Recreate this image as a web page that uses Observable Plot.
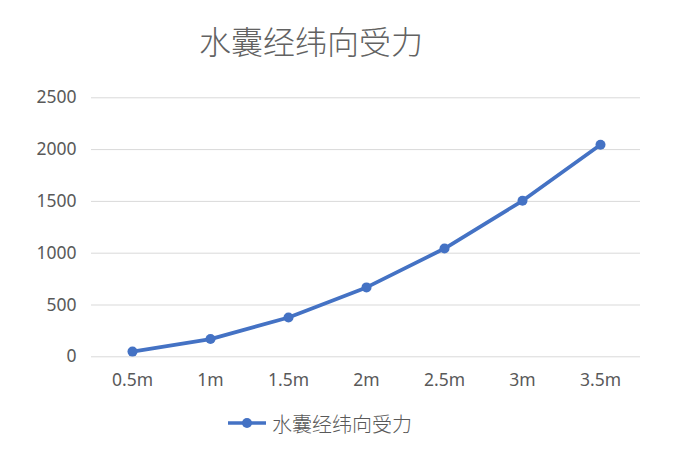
<!DOCTYPE html>
<html>
<head>
<meta charset="utf-8">
<script src="https://cdn.jsdelivr.net/npm/d3@7"></script>
<script src="https://cdn.jsdelivr.net/npm/@observablehq/plot@0.6"></script>
<style>
  html, body { margin: 0; padding: 0; background: #fff; }
  #wrap { width: 692px; height: 461px; position: relative; overflow: hidden; }
  #title { position: absolute; left: 199px; top: 16px; height: 48px; line-height: 48px;
    font-family: "Noto Sans CJK SC", sans-serif; font-size: 32px; font-weight: 300; color: #626262; white-space: nowrap; }
  #chart { position: absolute; left: 0; top: 70px; }
  #legend { position: absolute; left: 228px; top: 408px; height: 30px; display: flex; align-items: center;
    font-family: "Noto Sans CJK SC", sans-serif; font-size: 20px; font-weight: 300; color: #595959; white-space: nowrap; }
  #legend svg { margin-right: 6px; }
</style>
</head>
<body>
<div id="wrap">
  <div id="title"></div>
  <div id="chart"></div>
  <div id="legend"></div>
</div>
<script>
const title = "水囊经纬向受力";
const seriesName = "水囊经纬向受力";
const categories = ["0.5m", "1m", "1.5m", "2m", "2.5m", "3m", "3.5m"];
const values = [50, 171, 380, 670, 1045, 1506, 2047];
const yTicks = [0, 500, 1000, 1500, 2000, 2500];

const color = "#4472C4";
const data = categories.map((c, i) => ({ cat: c, value: values[i] }));

document.getElementById("title").textContent = title;

const plot = Plot.plot({
  width: 692,
  height: 330,
  marginLeft: 91,
  marginRight: 52,
  marginTop: 27.3,
  marginBottom: 43.7,
  style: { fontFamily: "'Noto Sans', sans-serif", fontSize: "17px", color: "#595959", background: "white" },
  x: { type: "point", domain: categories, padding: 0.5, label: null },
  y: { domain: [0, 2500], ticks: yTicks, label: null },
  marks: [
    Plot.gridY(yTicks, { stroke: "#D9D9D9", strokeOpacity: 1, strokeWidth: 1 }),
    Plot.axisY({ ticks: yTicks, tickSize: 0, tickPadding: 15, label: null, fill: "#595959", fontSize: 17.5, tickFormat: d => String(d) }),
    Plot.axisX({ tickSize: 0, tickPadding: 17, label: null, fill: "#595959", fontSize: 17.5 }),
    Plot.line(data, { x: "cat", y: "value", stroke: color, strokeWidth: 3.75 }),
    Plot.dot(data, { x: "cat", y: "value", r: 5, fill: color, stroke: "none" })
  ]
});
document.getElementById("chart").appendChild(plot);

// legend
const leg = document.getElementById("legend");
const ns = "http://www.w3.org/2000/svg";
const sw = document.createElementNS(ns, "svg");
sw.setAttribute("width", 38); sw.setAttribute("height", 12);
const ln = document.createElementNS(ns, "line");
ln.setAttribute("x1", 0); ln.setAttribute("x2", 38); ln.setAttribute("y1", 6); ln.setAttribute("y2", 6);
ln.setAttribute("stroke", color); ln.setAttribute("stroke-width", 3.5);
const ci = document.createElementNS(ns, "circle");
ci.setAttribute("cx", 19); ci.setAttribute("cy", 6); ci.setAttribute("r", 5); ci.setAttribute("fill", color);
sw.appendChild(ln); sw.appendChild(ci);
leg.appendChild(sw);
const sp = document.createElement("span");
sp.textContent = seriesName;
leg.appendChild(sp);
</script>
</body>
</html>
